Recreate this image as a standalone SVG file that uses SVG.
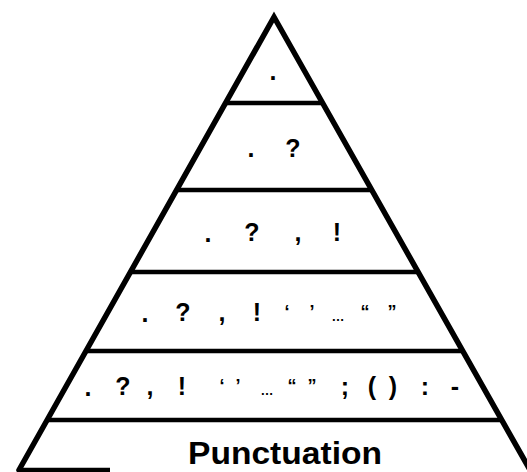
<svg xmlns="http://www.w3.org/2000/svg" width="527" height="472" viewBox="0 0 527 472">
<style>
.edge{stroke:#000;stroke-width:5.5;fill:none;stroke-linejoin:miter;stroke-linecap:round}
.bar{stroke:#000;stroke-width:4.5;fill:none}
.p{font-family:"Liberation Sans",Arial,sans-serif;font-weight:bold;font-size:25px;fill:#000;text-anchor:middle}
.q{font-size:18px}
.e{font-size:13px}
.t{font-family:"Liberation Sans",Arial,sans-serif;font-weight:bold;font-size:31px;fill:#000;text-anchor:middle}
</style>
<rect width="527" height="472" fill="#fff"/>
<g id="connectors">
<path class="edge" d="M19,470 L274,17 L530,470"/>
<line class="bar" x1="226" y1="103" x2="322" y2="103"/>
<line class="bar" x1="177" y1="190" x2="371" y2="190"/>
<line class="bar" x1="130" y1="272" x2="417" y2="272"/>
<line class="bar" x1="86" y1="351" x2="462" y2="351"/>
<line class="bar" x1="47" y1="420" x2="502" y2="420"/>
<line class="bar" x1="19" y1="470" x2="110" y2="470" stroke-width="3"/>
</g>
<g id="level1">
<text class="p" x="273" y="80">.</text>
</g>
<g id="level2">
<text class="p" x="251" y="157">.</text>
<text class="p" x="293" y="157">?</text>
</g>
<g id="level3">
<text class="p" x="208" y="242">.</text>
<text class="p" x="252" y="241">?</text>
<text class="p" x="298" y="241">,</text>
<text class="p" x="337" y="241">!</text>
</g>
<g id="level4">
<text class="p" x="145" y="322">.</text>
<text class="p" x="183" y="321">?</text>
<text class="p" x="222" y="321">,</text>
<text class="p" x="257" y="321">!</text>
<text class="p q" x="287" y="318">‘</text>
<text class="p q" x="312" y="318">’</text>
<text class="p e" x="338" y="321">…</text>
<text class="p q" x="365" y="318">“</text>
<text class="p q" x="392" y="318">”</text>
</g>
<g id="level5">
<text class="p" x="88" y="396">.</text>
<text class="p" x="123" y="395">?</text>
<text class="p" x="150" y="395">,</text>
<text class="p" x="182" y="395">!</text>
<text class="p q" x="222" y="392">‘</text>
<text class="p q" x="238" y="392">’</text>
<text class="p e" x="267" y="395">…</text>
<text class="p q" x="292" y="392">“</text>
<text class="p q" x="312" y="392">”</text>
<text class="p" x="345" y="395">;</text>
<text class="p" x="372" y="395">(</text>
<text class="p" x="393" y="395">)</text>
<text class="p" x="425" y="395">:</text>
<text class="p" x="455" y="395">-</text>
</g>
<g id="base">
<text class="t" x="285" y="464" textLength="194" lengthAdjust="spacingAndGlyphs">Punctuation</text>
</g>
</svg>
